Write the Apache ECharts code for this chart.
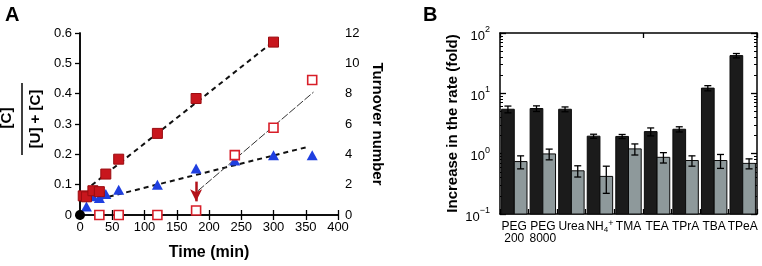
<!DOCTYPE html>
<html>
<head>
<meta charset="utf-8">
<script src="https://cdn.jsdelivr.net/npm/echarts@6/dist/echarts.min.js"></script>
<style>
html, body { margin: 0; padding: 0; background: #fff; }
#chart { width: 762px; height: 266px; }
</style>
</head>
<body>
<div id="chart"></div>
<script>
// ---- panel A : fraction / turnover vs time ----
var filledTime = [5, 10, 20, 30, 40, 60, 120, 180, 300];
var filledFrac = [0.063, 0.060, 0.080, 0.077, 0.135, 0.184, 0.269, 0.384, 0.570];
var triTime = [10, 20, 30, 40, 60, 120, 180, 240, 300, 360];
var triFrac = [0.028, 0.062, 0.056, 0.069, 0.083, 0.100, 0.153, 0.180, 0.197, 0.197];
var openTime = [30, 60, 120, 180, 240, 300, 360];
var openTurnover = [0, 0, 0, 0.3, 3.95, 5.75, 8.9];
var originPoint = [[0, 0]];
var fitFilled = [[18, 0.098], [300, 0.572]];
var fitTri = [[31, 0.053], [354, 0.225]];
var fitOpen = [[183, 1.6], [362, 8.1]];
var arrowAt = [[180, 0.11], [180, 0.045]];

// ---- panel B : rate increase (log) ----
var additives = ['PEG\n200', 'PEG\n8000', 'Urea', '{n|NH}{sb|4}{sp|+}', 'TMA', 'TEA', 'TPrA', 'TBA', 'TPeA'];
var darkRate = [5.45, 5.6, 5.45, 1.95, 1.93, 2.32, 2.54, 12.2, 42.2];
var darkErr = [0.7, 0.6, 0.5, 0.15, 0.15, 0.35, 0.25, 1.2, 3.5];
var greyRate = [0.74, 0.99, 0.52, 0.42, 1.2, 0.87, 0.77, 0.77, 0.69];
var greyErr = [0.18, 0.2, 0.11, 0.2, 0.25, 0.17, 0.15, 0.2, 0.13];
var minorTicks = [0.2, 0.3, 0.4, 0.5, 0.6, 0.7, 0.8, 0.9, 2, 3, 4, 5, 6, 7, 8, 9, 20, 30, 40, 50, 60, 70, 80, 90];

var FONT = 'Liberation Sans, Arial, Helvetica, sans-serif';

function zip(xs, ys) {
    var out = [];
    for (var i = 0; i < xs.length; i++) out.push([xs[i], ys[i]]);
    return out;
}
function barRows(vals, errs) {
    var out = [];
    for (var i = 0; i < vals.length; i++) out.push([i, vals[i], errs[i]]);
    return out;
}

// bars drawn from the bottom of the log axis (0.1), dark left / grey right of the category centre
function barRender(side, fill) {
    return function (params, api) {
        var i = api.value(0);
        var top = api.coord([i, api.value(1)]);
        var base = api.coord([i, 0.1]);
        var band = params.coordSys.width / additives.length;
        var w = band * 0.445;
        var x = side < 0 ? top[0] - w : top[0];
        return {
            type: 'rect',
            shape: { x: x, y: top[1], width: w, height: base[1] - top[1] },
            style: { fill: fill, stroke: '#0a0a0a', lineWidth: 1 }
        };
    };
}
function errRender(side) {
    return function (params, api) {
        var i = api.value(0);
        var v = api.value(1), e = api.value(2);
        var band = params.coordSys.width / additives.length;
        var c = api.coord([i, v]);
        var x = c[0] + side * band * 0.445 / 2;
        var hi = api.coord([i, v + e])[1];
        var lo = api.coord([i, Math.max(v - e, 0.101)])[1];
        var st = { stroke: '#000', lineWidth: 1.3 };
        return {
            type: 'group',
            children: [
                { type: 'line', shape: { x1: x, y1: hi, x2: x, y2: lo }, style: st },
                { type: 'line', shape: { x1: x - 3.5, y1: hi, x2: x + 3.5, y2: hi }, style: st },
                { type: 'line', shape: { x1: x - 3.5, y1: lo, x2: x + 3.5, y2: lo }, style: st }
            ]
        };
    };
}

var axisLine = { show: true, lineStyle: { color: '#000', width: 1.5 } };
var tickIn = { show: true, inside: true, length: 5, lineStyle: { color: '#000', width: 1.3 } };
var lbl = { color: '#000', fontFamily: FONT, fontSize: 13 };

var option = {
    backgroundColor: '#fff',
    animation: false,
    textStyle: { fontFamily: FONT },
    grid: [
        { left: 80, right: 424, top: 33, bottom: 50 },
        { left: 500, right: 5, top: 33, bottom: 52 },
        { left: 500, right: 5, top: 33, bottom: 52 }
    ],
    xAxis: [
        {
            gridIndex: 0, type: 'value', min: 0, max: 400, interval: 50, position: 'bottom',
            axisLine: axisLine, axisTick: tickIn, splitLine: { show: false },
            axisLabel: Object.assign({ margin: 6 }, lbl),
            name: 'Time (min)', nameLocation: 'middle', nameGap: 30,
            nameTextStyle: { color: '#000', fontFamily: FONT, fontSize: 16, fontWeight: 'bold' }
        },
        {
            gridIndex: 0, type: 'value', min: 0, max: 400, interval: 50, position: 'top',
            axisLine: axisLine, axisTick: tickIn, axisLabel: { show: false }, splitLine: { show: false }
        },
        {
            gridIndex: 1, type: 'category', data: additives, position: 'bottom',
            axisLine: axisLine, axisTick: tickIn,
            axisLabel: {
                interval: 0, margin: 7, color: '#000', fontFamily: FONT, fontSize: 12, lineHeight: 12,
                rich: {
                    n: { fontFamily: FONT, fontSize: 12, color: '#000' },
                    sb: { fontFamily: FONT, fontSize: 8, color: '#000', padding: [6, 0, 0, 0] },
                    sp: { fontFamily: FONT, fontSize: 9, color: '#000', padding: [0, 0, 6, 0] }
                }
            }
        },
        {
            gridIndex: 1, type: 'category', data: additives, position: 'top',
            axisLine: axisLine, axisTick: tickIn, axisLabel: { show: false }
        },
        {
            gridIndex: 2, type: 'category', data: additives, show: false
        }
    ],
    yAxis: [
        {
            gridIndex: 0, type: 'value', min: 0, max: 0.6, interval: 0.1, position: 'left',
            axisLine: axisLine, axisTick: { show: false }, splitLine: { show: false },
            axisLabel: Object.assign({
                margin: 8,
                formatter: function (v) { return v === 0 ? '0' : v.toFixed(1); }
            }, lbl)
        },
        {
            gridIndex: 0, type: 'value', min: 0, max: 12, interval: 2, position: 'right',
            axisLine: axisLine, axisTick: tickIn, splitLine: { show: false },
            axisLabel: Object.assign({ margin: 7 }, lbl),
            name: 'Turnover number', nameLocation: 'middle', nameRotate: -90, nameGap: 32,
            nameTextStyle: { color: '#000', fontFamily: FONT, fontSize: 15, fontWeight: 'bold' }
        },
        {
            gridIndex: 1, type: 'log', logBase: 10, min: 0.1, max: 100, position: 'left',
            axisLine: axisLine, axisTick: { show: true, inside: true, length: 6, lineStyle: { color: '#000', width: 1.3 } },
            splitLine: { show: false },
            axisLabel: {
                margin: 10,
                formatter: function (v) {
                    var e = Math.round(Math.log(v) / Math.LN10);
                    return '{b|10}{s|' + (e < 0 ? '\u2212' + (-e) : e) + '}';
                },
                rich: {
                    b: { fontFamily: FONT, fontSize: 13, color: '#000', padding: [6, 0, 0, 0] },
                    s: { fontFamily: FONT, fontSize: 9, color: '#000', padding: [0, 0, 7, 0] }
                }
            },
            name: 'Increase in the rate (fold)', nameLocation: 'middle', nameRotate: 90, nameGap: 40,
            nameTextStyle: { color: '#000', fontFamily: FONT, fontSize: 15, fontWeight: 'bold' }
        },
        {
            gridIndex: 1, type: 'log', logBase: 10, min: 0.1, max: 100, position: 'right',
            axisLine: axisLine, axisTick: { show: true, inside: true, length: 6, lineStyle: { color: '#000', width: 1.3 } },
            splitLine: { show: false }, axisLabel: { show: false }
        },
        {
            gridIndex: 2, type: 'log', logBase: 10, min: 0.1, max: 100, position: 'left',
            axisLine: { show: false }, splitLine: { show: false }, axisLabel: { show: false },
            axisTick: { show: true, inside: true, length: 3, customValues: minorTicks, lineStyle: { color: '#000', width: 1 } }
        },
        {
            gridIndex: 2, type: 'log', logBase: 10, min: 0.1, max: 100, position: 'right',
            axisLine: { show: false }, splitLine: { show: false }, axisLabel: { show: false },
            axisTick: { show: true, inside: true, length: 3, customValues: minorTicks, lineStyle: { color: '#000', width: 1 } }
        }
    ],
    graphic: [
        { type: 'text', left: 5, top: 5, style: { text: 'A', font: 'bold 20px ' + FONT, fill: '#000' } },
        { type: 'text', left: 423, top: 5, style: { text: 'B', font: 'bold 20px ' + FONT, fill: '#000' } },
        { type: 'text', x: 7, y: 118, rotation: Math.PI / 2,
          style: { text: '[C]', font: 'bold 15px ' + FONT, fill: '#000', align: 'center', verticalAlign: 'middle' } },
        { type: 'line', shape: { x1: 22, y1: 83, x2: 22, y2: 155 }, style: { stroke: '#000', lineWidth: 1.5 } },
        { type: 'text', x: 36, y: 119, rotation: Math.PI / 2,
          style: { text: '[U] + [C]', font: 'bold 15px ' + FONT, fill: '#000', align: 'center', verticalAlign: 'middle' } }
    ],
    series: [
        {
            type: 'line', xAxisIndex: 0, yAxisIndex: 0, data: fitFilled, symbol: 'none', z: 1,
            lineStyle: { color: '#111', width: 2, type: [5, 4] }
        },
        {
            type: 'line', xAxisIndex: 0, yAxisIndex: 0, data: fitTri, symbol: 'none', z: 1,
            lineStyle: { color: '#111', width: 2, type: [5, 4] }
        },
        {
            type: 'line', xAxisIndex: 0, yAxisIndex: 1, data: fitOpen, symbol: 'none', z: 1,
            lineStyle: { color: '#333', width: 1, type: [8, 2] }
        },
        {
            type: 'scatter', xAxisIndex: 0, yAxisIndex: 0, data: zip(triTime, triFrac), z: 3,
            symbol: 'triangle', symbolSize: [11, 10],
            itemStyle: { color: '#1f3fe0', opacity: 1 }
        },
        {
            type: 'scatter', xAxisIndex: 0, yAxisIndex: 0, data: zip(filledTime, filledFrac), z: 4,
            symbol: 'rect', symbolSize: 10,
            itemStyle: { color: '#c8161d', borderColor: '#9a0c10', borderWidth: 1, opacity: 1 },
            markLine: {
                silent: true, symbol: ['none', 'arrow'], symbolSize: [9, 12], animation: false,
                label: { show: false },
                lineStyle: { color: '#b3121a', width: 2.5, type: 'solid' },
                data: [[{ coord: arrowAt[0] }, { coord: arrowAt[1] }]]
            }
        },
        {
            type: 'scatter', xAxisIndex: 0, yAxisIndex: 1, data: zip(openTime, openTurnover), z: 4,
            symbol: 'rect', symbolSize: 9,
            itemStyle: { color: '#fff', borderColor: '#d81e28', borderWidth: 1.6, opacity: 1 }
        },
        {
            type: 'scatter', xAxisIndex: 0, yAxisIndex: 0, data: originPoint, z: 5,
            symbol: 'circle', symbolSize: 10, itemStyle: { color: '#000', opacity: 1 }
        },
        {
            type: 'custom', xAxisIndex: 2, yAxisIndex: 2, data: barRows(darkRate, darkErr),
            renderItem: barRender(-1, '#1b1b1b'), encode: { x: 0, y: 1 }
        },
        {
            type: 'custom', xAxisIndex: 2, yAxisIndex: 2, data: barRows(greyRate, greyErr),
            renderItem: barRender(1, '#8e999b'), encode: { x: 0, y: 1 }
        },
        {
            type: 'custom', xAxisIndex: 2, yAxisIndex: 2, data: barRows(darkRate, darkErr),
            renderItem: errRender(-1), encode: { x: 0, y: 1 }, z: 5
        },
        {
            type: 'custom', xAxisIndex: 2, yAxisIndex: 2, data: barRows(greyRate, greyErr),
            renderItem: errRender(1), encode: { x: 0, y: 1 }, z: 5
        }
    ]
};

var chart = echarts.init(document.getElementById('chart'), null, { renderer: 'canvas' });
chart.setOption(option);
</script>
</body>
</html>
